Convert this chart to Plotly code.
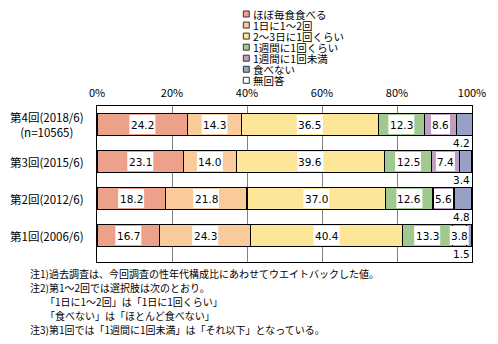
import plotly.graph_objects as go

surveys = ["第4回(2018/6)", "第3回(2015/6)", "第2回(2012/6)", "第1回(2006/6)"]
survey_sub = ["(n=10565)", "", "", ""]
series_names = ["ほぼ毎食食べる", "1日に1～2回", "2～3日に1回くらい", "1週間に1回くらい",
                "1週間に1回未満", "食べない", "無回答"]
v_daily = [24.2, 23.1, 18.2, 16.7]
v_1to2 = [14.3, 14.0, 21.8, 24.3]
v_2to3days = [36.5, 39.6, 37.0, 40.4]
v_weekly = [12.3, 12.5, 12.6, 13.3]
v_lessweekly = [8.6, 7.4, 5.6, 3.8]
v_never = [4.2, 3.4, 4.8, 1.5]
v_noanswer = [0.0, 0.0, 0.0, 0.0]
x_tickvals = [0, 20, 40, 60, 80, 100]
x_ticktext = ["0%", "20%", "40%", "60%", "80%", "100%"]
footnotes = [
    "注1)過去調査は、今回調査の性年代構成比にあわせてウエイトバックした値。",
    "注2)第1～2回では選択肢は次のとおり。",
    "　　「1日に1～2回」は「1日に1回くらい」",
    "　　「食べない」は「ほとんど食べない」",
    "注3)第1回では「1週間に1回未満」は「それ以下」となっている。",
]

series = [v_daily, v_1to2, v_2to3days, v_weekly, v_lessweekly, v_never, v_noanswer]
colors = ["#EDA08A", "#F9CA9A", "#FEE699", "#A0C990", "#BF9EC4", "#97A1C6", "#FFFFFF"]
FONT = "Noto Sans CJK JP"
NUMFONT = "DejaVu Sans"

W, H = 498, 344
L, R, T, B = 97, 23, 106, 82
PW, PH = W - L - R, H - T - B


def px_x(p):
    return (p - L) / PW


def px_y(p):
    return (H - B - p) / PH


fig = go.Figure()
for name, vals, col in zip(series_names, series, colors):
    fig.add_trace(go.Bar(
        y=surveys, x=vals, name=name, orientation="h",
        marker=dict(color=col, line=dict(color="#000000", width=1.2)),
        showlegend=False, hoverinfo="skip",
    ))

annotations = []
shapes = []
# value labels
for i, s in enumerate(surveys):
    cum = 0.0
    for k in range(5):
        v = series[k][i]
        txt = f"{v:.1f}"
        half_w = (7 * len(txt) - 2) / 2
        shapes.append(dict(
            type="rect", xref="x", yref="y", layer="above",
            xsizemode="pixel", ysizemode="pixel",
            xanchor=cum + v / 2, yanchor=i,
            x0=-half_w, x1=half_w, y0=-9.5, y1=9.5,
            fillcolor="#FFFFFF", line=dict(width=0),
        ))
        annotations.append(dict(
            x=cum + v / 2, y=s, xref="x", yref="y", text=txt,
            showarrow=False,
            font=dict(family=NUMFONT, size=10.5, color="#000000"),
        ))
        cum += v
    annotations.append(dict(
        x=100, y=i + 0.5, xref="x", yref="y", text=f"{v_never[i]:.1f}",
        showarrow=False, xanchor="right", yanchor="middle",
        font=dict(family=NUMFONT, size=10.5, color="#000000"),
    ))
    label = s if not survey_sub[i] else s + "<br>" + survey_sub[i]
    annotations.append(dict(
        x=px_x(86), y=s, xref="paper", yref="y", text=label,
        showarrow=False, xanchor="right", yanchor="middle", align="center",
        font=dict(family=FONT, size=11.5, color="#000000"),
    ))

# manual legend: one text block, tight line spacing, 10.5px glyphs
LEG_STEP = 8.5 * 1.3
LEG_Y0 = 14
for j, col in enumerate(colors):
    yc = LEG_Y0 + LEG_STEP * j
    shapes.append(dict(
        type="rect", xref="paper", yref="paper",
        x0=px_x(244.5), x1=px_x(250.5), y0=px_y(yc + 3), y1=px_y(yc - 3),
        fillcolor=col, line=dict(color="#333333", width=1),
    ))
legend_text = "<br>".join(
    f"<span style='font-size:10.5px'>{n}</span>" for n in series_names)
annotations.append(dict(
    x=px_x(252), y=px_y(LEG_Y0 + LEG_STEP * 3), xref="paper", yref="paper",
    text=legend_text, showarrow=False, xanchor="left", yanchor="middle",
    align="left", font=dict(family=FONT, size=8.5, color="#000000"),
))

# footnotes
for j, line in enumerate(footnotes):
    yc = 273 + 14 * j
    annotations.append(dict(
        x=px_x(27), y=px_y(yc), xref="paper", yref="paper", text=line,
        showarrow=False, xanchor="left", yanchor="middle",
        font=dict(family=FONT, size=10, color="#000000"),
    ))

fig.update_layout(
    width=W, height=H,
    margin=dict(l=L, r=R, t=T, b=B, pad=0),
    barmode="stack", bargap=0.41,
    paper_bgcolor="#FFFFFF", plot_bgcolor="#FFFFFF",
    font=dict(family=FONT, size=11, color="#000000"),
    xaxis=dict(
        side="top", range=[0, 100], tickvals=x_tickvals, ticktext=x_ticktext,
        showgrid=True, gridcolor="#808080", gridwidth=1,
        showline=True, linecolor="#000000", linewidth=1, mirror=True,
        ticks="outside", ticklen=4, tickcolor="#FFFFFF",
        zeroline=False, fixedrange=True,
        tickfont=dict(family=FONT, size=11, color="#000000"),
    ),
    yaxis=dict(
        type="category", autorange="reversed", showticklabels=False,
        showline=True, linecolor="#000000", linewidth=1, mirror=True,
        ticks="", showgrid=False, fixedrange=True,
    ),
    annotations=annotations, shapes=shapes,
)

fig.write_html("out.html")
